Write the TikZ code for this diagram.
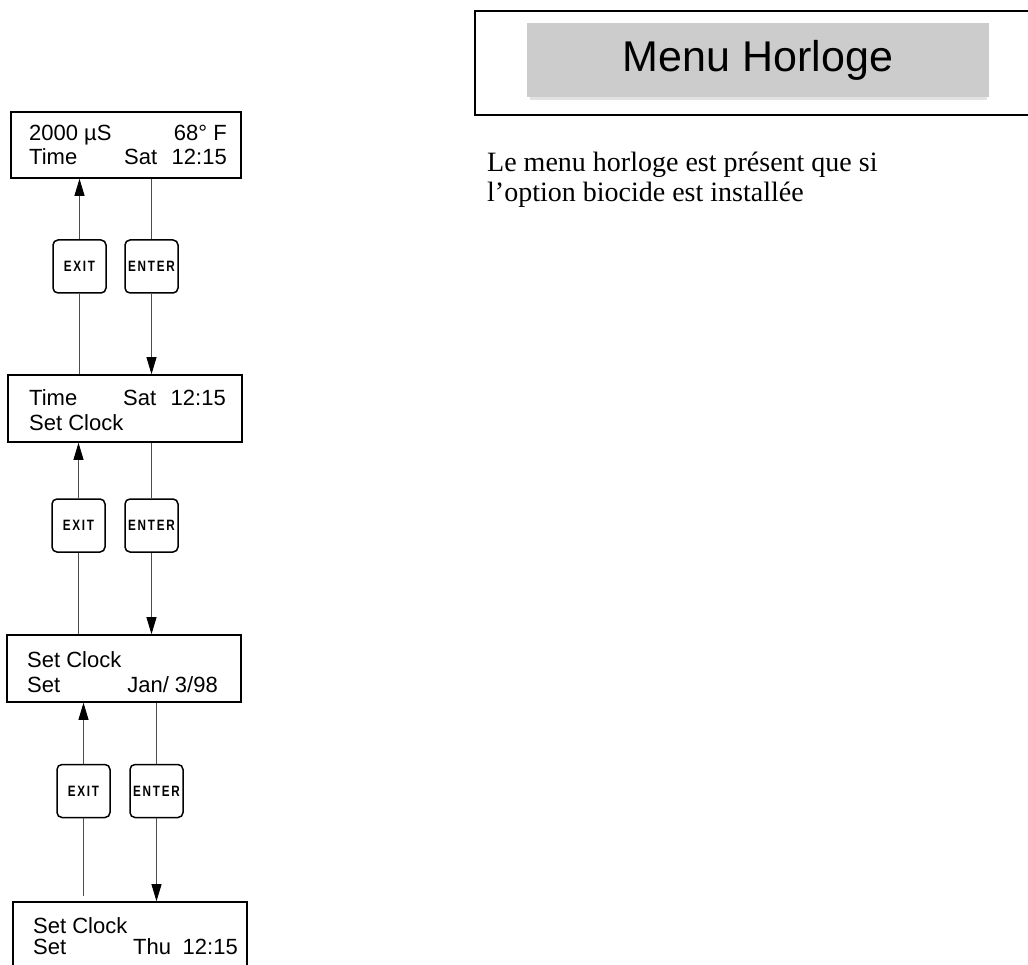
\documentclass[tikz,border=0pt]{standalone}
\usepackage{fontspec}
\usepackage{graphicx}
\setmainfont{Liberation Sans}
\newfontfamily\serifpara{Liberation Serif}
\newfontfamily\keyfont[LetterSpace=15]{Liberation Sans Bold}
\usetikzlibrary{arrows.meta}
\definecolor{hdrgray}{HTML}{CCCCCC}
\definecolor{hdrshadow}{HTML}{E2E2E2}
\tikzset{
  screen/.style={draw, line width=1.6pt, inner sep=0pt},
  keybox/.style={draw, line width=1.5pt, rounded corners=5pt, minimum width=53pt, minimum height=53pt, inner sep=0pt,
     font=\keyfont\fontsize{15}{15}\selectfont},
  link/.style={line width=0.9pt, draw=black!70},
  tipped/.style={-{Triangle[length=17pt,width=10pt,color=black]}},
  lcd/.style={inner sep=0pt, font=\fontsize{22}{26}\selectfont},
}
\newcommand{\keylabel}[1]{\scalebox{0.78}[1]{#1}}
\begin{document}
\begin{tikzpicture}[x=1pt,y=-1pt]
\useasboundingbox (0,0) rectangle (1028,965);
\begin{scope}
\clip (0,0) rectangle (1028,965);
% header
\draw[line width=1.6pt] (475,11) rectangle (1045,115);
\fill[hdrshadow] (530,96) rectangle (987,100);
\fill[hdrgray] (527,23) rectangle (989,97);
\node[inner sep=0pt, font=\fontsize{43}{43}\selectfont] (title) at (758,60) {Menu Horloge};
\node[inner sep=0pt, anchor=base west, align=left, font=\serifpara\fontsize{28}{30}\selectfont] (para) at (487,202)
  {Le menu horloge est présent que si\\l’option biocide est installée};

% screens
\node[screen, minimum width=230pt, minimum height=66pt] (b1) at (126,145) {};
\node[screen, minimum width=234pt, minimum height=67pt] (b2) at (125,408.5) {};
\node[screen, minimum width=234pt, minimum height=67pt] (b3) at (124,668.5) {};
\node[screen, minimum width=234pt, minimum height=66pt] (b4) at (130,935) {};

% screen texts
\node[lcd, anchor=base west] (t1a) at (29,141) {2000 µS};
\node[lcd, anchor=base east] (t1b) at (227,141) {68° F};
\node[lcd, anchor=base west] (t1c) at (29,165) {Time};
\node[lcd, anchor=base west] (t1d) at (124,165) {Sat};
\node[lcd, anchor=base east] (t1e) at (227,165) {12:15};

\node[lcd, anchor=base west] (t2a) at (29,406) {Time};
\node[lcd, anchor=base west] (t2b) at (123,406) {Sat};
\node[lcd, anchor=base east] (t2c) at (226,406) {12:15};
\node[lcd, anchor=base west] (t2d) at (29,431) {Set Clock};

\node[lcd, anchor=base west] (t3a) at (27,667) {Set Clock};
\node[lcd, anchor=base west] (t3b) at (27,692) {Set};
\node[lcd, anchor=base east] (t3c) at (218,692) {Jan/ 3/98};

\node[lcd, anchor=base west] (t4a) at (33,933) {Set Clock};
\node[lcd, anchor=base west] (t4b) at (33,954) {Set};
\node[lcd, anchor=base west] (t4c) at (133,954) {Thu};
\node[lcd, anchor=base east] (t4d) at (238,954) {12:15};

% keys
\node[keybox] (e1) at (79.5,266.5) {\keylabel{EXIT}};
\node[keybox] (n1) at (151.5,266.5) {\keylabel{ENTER}};
\node[keybox] (e2) at (78.5,525.5) {\keylabel{EXIT}};
\node[keybox] (n2) at (151.5,525.5) {\keylabel{ENTER}};
\node[keybox] (e3) at (83.5,791) {\keylabel{EXIT}};
\node[keybox] (n3) at (156.5,791) {\keylabel{ENTER}};

% connectors
\draw[link, tipped] (e1.north) -- (e1.north |- b1.south);
\draw[link] (n1.north |- b1.south) -- (n1.north);
\draw[link] (e1.south |- b2.north) -- (e1.south);
\draw[link, tipped] (n1.south) -- (n1.south |- b2.north);

\draw[link, tipped] (e2.north) -- (e2.north |- b2.south);
\draw[link] (n2.north |- b2.south) -- (n2.north);
\draw[link] (e2.south |- b3.north) -- (e2.south);
\draw[link, tipped] (n2.south) -- (n2.south |- b3.north);

\draw[link, tipped] (e3.north) -- (e3.north |- b3.south);
\draw[link] (n3.north |- b3.south) -- (n3.north);
\draw[link, shorten <=5pt] (e3.south |- b4.north) -- (e3.south);
\draw[link, tipped] (n3.south) -- (n3.south |- b4.north);
\end{scope}
\end{tikzpicture}
\end{document}
